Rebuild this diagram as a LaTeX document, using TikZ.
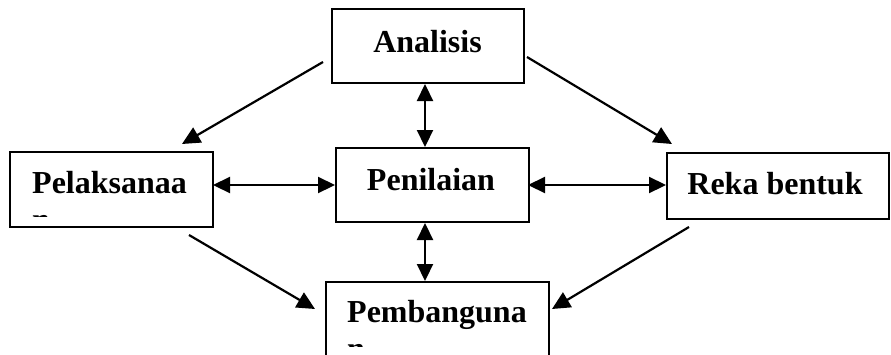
\documentclass[tikz,border=0pt]{standalone}
\usepackage{fontspec}
\setmainfont{Liberation Serif}
\usetikzlibrary{arrows.meta}
\begin{document}
\begin{tikzpicture}[x=1pt,y=-1pt,
  box/.style={draw,line width=1.6pt,rectangle,inner sep=0pt},
  lbl/.style={anchor=base,inner sep=0pt,font=\fontsize{32}{37}\selectfont\bfseries},
  lbll/.style={anchor=base west,inner sep=0pt,font=\fontsize{32}{37}\selectfont\bfseries},
  arr/.style={line width=2.2pt,-{Triangle[length=18pt,width=17pt]}},
  darr/.style={line width=2.2pt,{Triangle[length=17pt,width=16pt]}-{Triangle[length=17pt,width=16pt]}}]
\useasboundingbox (0,0) rectangle (891,354);
% boxes
\node[box,minimum width=192pt,minimum height=74pt] (ana) at (428,46) {};
\node[box,minimum width=203pt,minimum height=75pt] (pel) at (111.5,189.5) {};
\node[box,minimum width=193pt,minimum height=74pt] (pen) at (432.5,185) {};
\node[box,minimum width=222pt,minimum height=66pt] (rek) at (778,186) {};
\coordinate (pembnw) at (326,282);
\coordinate (pembne) at (549,282);
\coordinate (pembsw) at (326,360);
\coordinate (pembse) at (549,360);
\draw[line width=1.6pt] (pembse) -- (pembne) -- (pembnw) -- (pembsw);
% labels
\node[lbl] (tana) at (427.5,52) {Analisis};
\node[lbll] (tpel) at (32,193) {Pelaksanaa};
\node[lbl] (tpen) at (431,190) {Penilaian};
\node[lbl] (trek) at (775,194) {Reka bentuk};
\node[lbll] (tpemb) at (347,322) {Pembanguna};
\begin{scope}
\clip (0,0) rectangle (891,216);
\node[lbll] (tpeln) at (32,230) {n};
\end{scope}
\begin{scope}
\clip (0,0) rectangle (891,346);
\node[lbll] (tpembn) at (347,359) {n};
\end{scope}
% arrow end points
\coordinate (a1s) at (323,62);  \coordinate (a1e) at (182,144);
\coordinate (a2s) at (527,57);  \coordinate (a2e) at (672,144);
\coordinate (a3s) at (425,84);  \coordinate (a3e) at (425,147);
\coordinate (a4s) at (213,185); \coordinate (a4e) at (335,185);
\coordinate (a5s) at (528,185); \coordinate (a5e) at (666,185);
\coordinate (a6s) at (425,223); \coordinate (a6e) at (425,281);
\coordinate (a7s) at (189,235); \coordinate (a7e) at (315,309);
\coordinate (a8s) at (689,227); \coordinate (a8e) at (552,309);
\draw[arr] (a1s) -- (a1e);
\draw[arr] (a2s) -- (a2e);
\draw[darr] (a3s) -- (a3e);
\draw[darr] (a4s) -- (a4e);
\draw[darr] (a5s) -- (a5e);
\draw[darr] (a6s) -- (a6e);
\draw[arr] (a7s) -- (a7e);
\draw[arr] (a8s) -- (a8e);
\end{tikzpicture}
\end{document}
